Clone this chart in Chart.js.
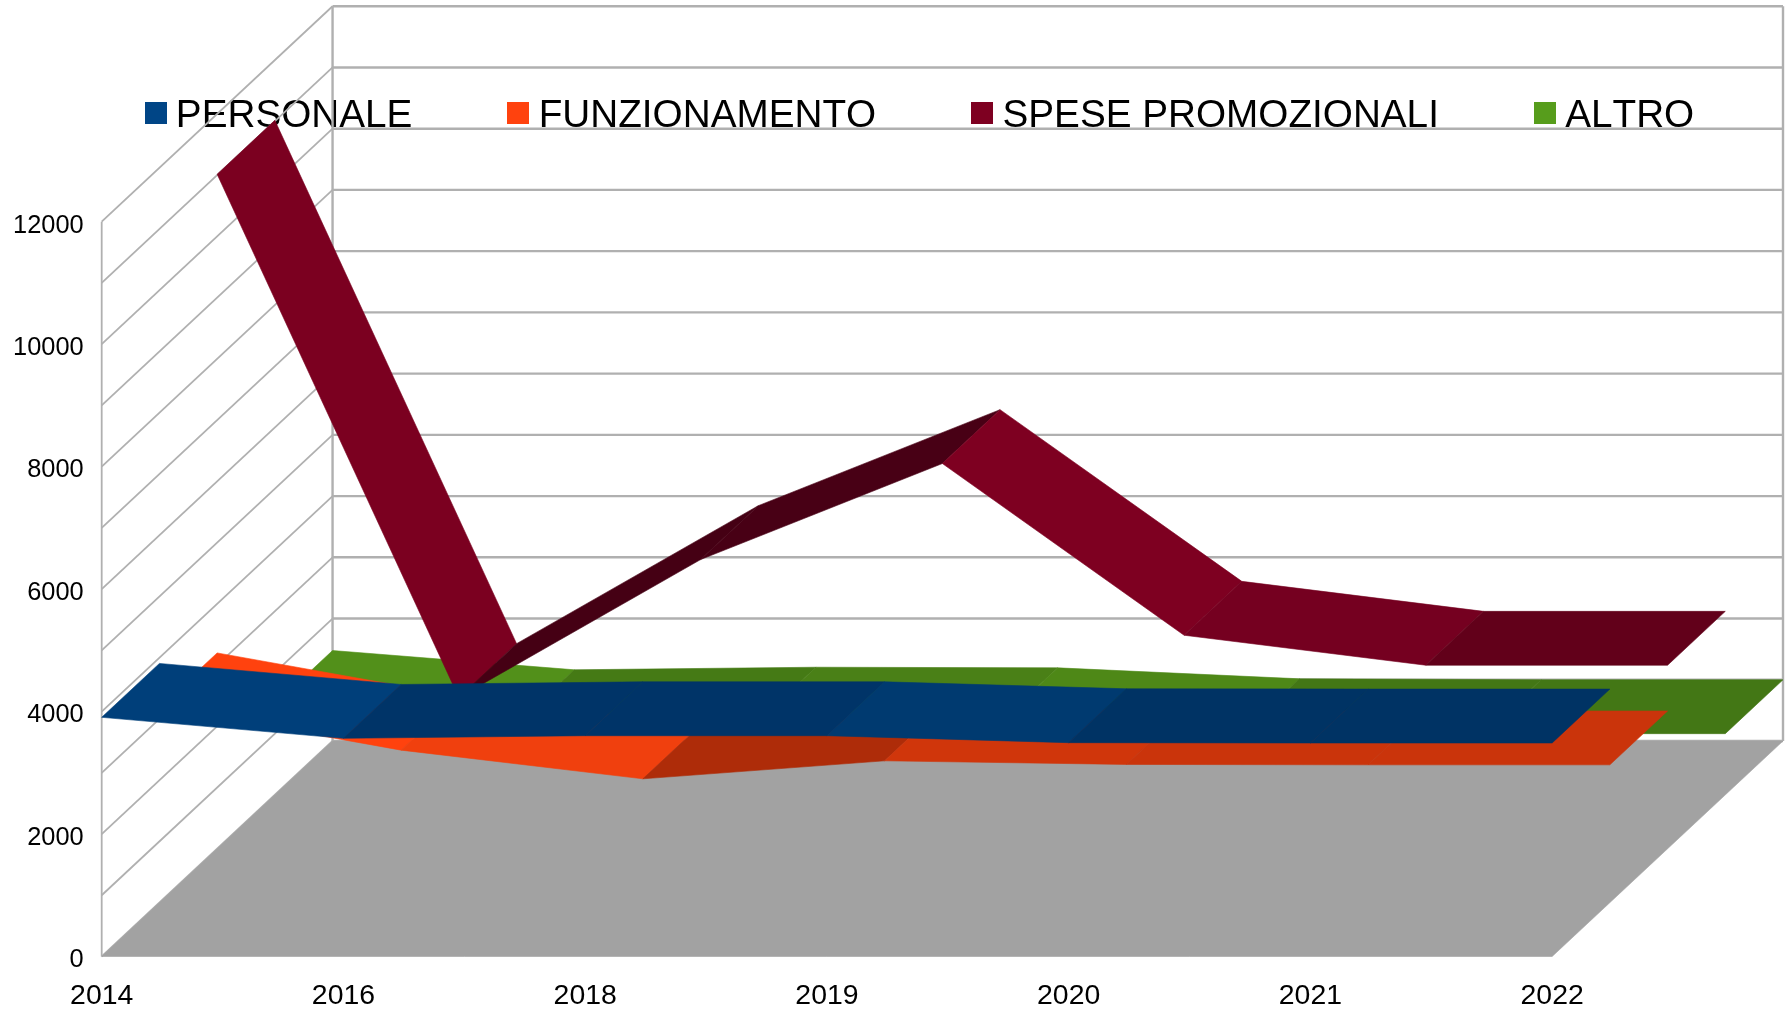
<!DOCTYPE html>
<html>
<head>
<meta charset="utf-8">
<style>html,body{margin:0;padding:0;background:#fff}canvas{display:block}</style>
<script src="https://cdn.jsdelivr.net/npm/chart.js@4/dist/chart.umd.js"></script>
</head>
<body>
<canvas id="c" width="1789" height="1011"></canvas>
<script>
const years = ['2014','2016','2018','2019','2020','2021','2022'];
const personale = [3906, 3563, 3606, 3606, 3492, 3487, 3487];
const funzionamento = [3198, 2490, 2022, 2316, 2257, 2250, 2250];
const spesePromozionali = [11016, 2470, 4723, 6291, 3487, 2997, 2997];
const altro = [1478, 1163, 1205, 1195, 1016, 1000, 1000];

const seriesNames = ['PERSONALE', 'FUNZIONAMENTO', 'SPESE PROMOZIONALI', 'ALTRO'];
const seriesValues = [personale, funzionamento, spesePromozionali, altro];
const legendColors = ['#004586', '#ff420e', '#7e0021', '#579d1c'];
const segmentShades = [
  ['#003f7a', '#003468', '#003468', '#003a70', '#003364', '#003364'],
  ['#ff420e', '#f0400e', '#ae2c09', '#d0360b', '#ca340b', '#ca340b'],
  ['#7b0020', '#450014', '#480015', '#7e0021', '#750020', '#62001a'],
  ['#52901a', '#457a15', '#4a8017', '#4e8817', '#437715', '#437715']
];

// Depth of the 3D box, in axis units; each series occupies a quarter of it.
const DEPTH_X = 0.955;
const DEPTH_Y = 3519;
const GRID = '#b0b0b0';

// Legend swatch: a 22px square sitting slightly above the text's centre line.
function swatch(color) {
  const c = document.createElement('canvas');
  c.width = 22; c.height = 28;
  const g = c.getContext('2d');
  g.fillStyle = color;
  g.fillRect(0, 0, 22, 22);
  return c;
}

const ribbons = {
  id: 'ribbons',
  beforeLayout(chart) { chart.ctx.fontKerning = 'none'; },
  beforeDraw(chart) { chart.ctx.fontKerning = 'none'; },
  afterLayout(chart) {
    const lg = chart.legend, pad = lg.options.labels.padding;
    lg.left = 154.5 - pad;
    lg.right = chart.width + pad;
    lg.top = 96.6 - pad;
  },
  beforeDatasetsDraw(chart) {
    const {ctx, scales: {x, y}} = chart;
    const px = (v, d) => x.getPixelForValue(v + d * DEPTH_X);
    const py = (v, d) => y.getPixelForValue(v + d * DEPTH_Y);
    const last = years.length - 1;
    const poly = (pts, fill) => {
      ctx.beginPath();
      pts.forEach((p, i) => i ? ctx.lineTo(p[0], p[1]) : ctx.moveTo(p[0], p[1]));
      ctx.closePath();
      ctx.fillStyle = fill; ctx.fill();
      ctx.strokeStyle = fill; ctx.lineWidth = 0.6; ctx.stroke();
    };
    ctx.save();
    // walls
    ctx.strokeStyle = GRID;
    y.ticks.forEach(t => {
      ctx.lineWidth = 1.8;
      ctx.beginPath();
      ctx.moveTo(px(0, 0), py(t.value, 0));
      ctx.lineTo(px(0, 1), py(t.value, 1));
      ctx.stroke();
      ctx.lineWidth = 2.4;
      ctx.beginPath();
      ctx.moveTo(px(0, 1), py(t.value, 1));
      ctx.lineTo(px(last, 1), py(t.value, 1));
      ctx.stroke();
    });
    ctx.lineWidth = 1.8;
    ctx.beginPath();
    ctx.moveTo(px(0, 0), py(0, 0));
    ctx.lineTo(px(0, 0), py(12000, 0));
    ctx.stroke();
    ctx.lineWidth = 2.4;
    [0, last].forEach(i => {
      ctx.beginPath();
      ctx.moveTo(px(i, 1), py(0, 1));
      ctx.lineTo(px(i, 1), py(12000, 1));
      ctx.stroke();
    });
    // floor
    poly([[px(0,0),py(0,0)],[px(last,0),py(0,0)],[px(last,1),py(0,1)],[px(0,1),py(0,1)]], '#a2a2a2');
    // ribbons, furthest series first
    for (let s = seriesValues.length - 1; s >= 0; s--) {
      const vals = seriesValues[s], d0 = s / 4, d1 = (s + 1) / 4;
      for (let i = 0; i < last; i++) {
        poly([
          [px(i, d0), py(vals[i], d0)],
          [px(i + 1, d0), py(vals[i + 1], d0)],
          [px(i + 1, d1), py(vals[i + 1], d1)],
          [px(i, d1), py(vals[i], d1)]
        ], segmentShades[s][i]);
      }
    }
    ctx.restore();
  }
};

new Chart(document.getElementById('c'), {
  type: 'line',
  data: {
    datasets: seriesNames.map((name, s) => ({
      label: name,
      data: seriesValues[s].map((v, i) => ({x: i, y: v})),
      showLine: false,
      pointRadius: 0,
      pointStyle: swatch(legendColors[s]),
      borderWidth: 0,
      backgroundColor: legendColors[s],
      borderColor: legendColors[s]
    }))
  },
  plugins: [ribbons],
  options: {
    responsive: false,
    animation: false,
    events: [],
    layout: {padding: {top: 121.7, right: 6, bottom: 0, left: 0}},
    plugins: {
      tooltip: {enabled: false},
      legend: {
        position: 'top',
        align: 'start',
        maxHeight: 100,
        z: 5,
        labels: {
          usePointStyle: true,
          boxWidth: 2,
          boxHeight: 22,
          padding: 105,
          color: '#000',
          font: {family: '"Liberation Sans"', size: 38.7}
        }
      }
    },
    scales: {
      x: {
        type: 'linear',
        min: 0,
        max: years.length - 1 + DEPTH_X,
        grid: {display: false},
        border: {display: false},
        afterFit(scale) { scale.height = 54.5; },
        ticks: {
          stepSize: 1,
          includeBounds: false,
          autoSkip: false,
          maxRotation: 0,
          padding: 14.3,
          color: '#000',
          font: {family: '"Liberation Sans"', size: 28.4},
          callback: v => years[v]
        }
      },
      y: {
        min: 0,
        max: 12000,
        grid: {display: false},
        border: {display: false},
        afterFit(scale) { scale.width = 101.7; },
        ticks: {
          stepSize: 1000,
          autoSkip: false,
          padding: 10,
          labelOffset: 3.8,
          color: '#000',
          font: {family: '"Liberation Sans"', size: 25.4},
          callback: v => (v % 2000 === 0 ? String(v) : '')
        }
      }
    }
  }
});
</script>
</body>
</html>
